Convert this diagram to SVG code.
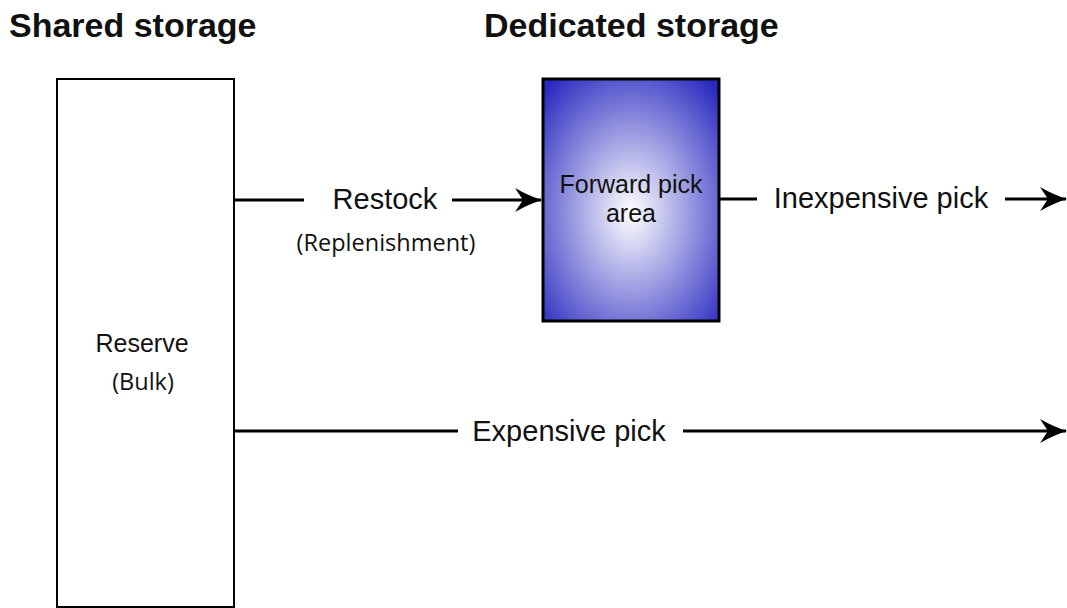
<svg xmlns="http://www.w3.org/2000/svg" width="1067" height="608" viewBox="0 0 1067 608">
  <style>
    .hdr { font-family: "Liberation Sans", Arial, sans-serif; font-weight: bold; font-size: 34px; fill: #111; }
    .lbl { font-family: "Liberation Sans", Arial, sans-serif; font-size: 29px; fill: #111; }
    .node { font-family: "Liberation Sans", Arial, sans-serif; font-size: 25px; fill: #111; }
    .sub { font-family: "Open Sans", "Noto Sans", sans-serif; font-size: 23.5px; fill: #111; }
    .edge { stroke: #000; stroke-width: 3; fill: none; }
  </style>
  <defs>
    <radialGradient id="fwdFill" cx="0.5" cy="0.55" r="0.7">
      <stop offset="0" stop-color="#ffffff"/>
      <stop offset="1" stop-color="#2a2ac0"/>
    </radialGradient>
    <!-- stealth-style arrowhead with a notched back -->
    <marker id="arrow" viewBox="0 0 27 24" refX="26" refY="12" markerWidth="27" markerHeight="24" markerUnits="userSpaceOnUse" orient="auto">
      <path d="M0,0 Q14,8 27,12 Q14,16 0,24 L8,12 Z" fill="#000"/>
    </marker>
  </defs>

  <rect width="1067" height="608" fill="#fff"/>

  <text class="hdr" x="9" y="37">Shared storage</text>
  <text class="hdr" x="484" y="37">Dedicated storage</text>

  <g id="reserve">
    <rect x="57" y="79" width="177" height="528" fill="#fff" stroke="#000" stroke-width="2"/>
    <text class="node" x="142" y="352" text-anchor="middle">Reserve</text>
    <text class="sub" x="143" y="390" text-anchor="middle">(Bulk)</text>
  </g>

  <g id="forward-pick">
    <rect x="543" y="79" width="176" height="242" fill="url(#fwdFill)" stroke="#000" stroke-width="3"/>
    <text class="node" x="631" y="193" text-anchor="middle">Forward pick</text>
    <text class="node" x="631" y="222" text-anchor="middle">area</text>
  </g>

  <g id="connectors">
    <line class="edge" x1="234" y1="200" x2="304" y2="200" stroke-width="2.5"/>
    <line class="edge" x1="452" y1="200" x2="541" y2="200" stroke-width="2.5" marker-end="url(#arrow)"/>
    <line class="edge" x1="720" y1="199" x2="757" y2="199" stroke-width="2.5"/>
    <line class="edge" x1="1005" y1="199" x2="1066" y2="199" stroke-width="2.5" marker-end="url(#arrow)"/>
    <line class="edge" x1="234" y1="431" x2="458" y2="431" stroke-width="3.5"/>
    <line class="edge" x1="683" y1="431" x2="1066" y2="431" stroke-width="3.5" marker-end="url(#arrow)"/>
  </g>

  <g id="labels">
    <text class="lbl" x="385" y="209" text-anchor="middle">Restock</text>
    <text class="sub" x="386" y="251" text-anchor="middle">(Replenishment)</text>
    <text class="lbl" x="881" y="208" text-anchor="middle">Inexpensive pick</text>
    <text class="lbl" x="569" y="441" text-anchor="middle">Expensive pick</text>
  </g>
</svg>
